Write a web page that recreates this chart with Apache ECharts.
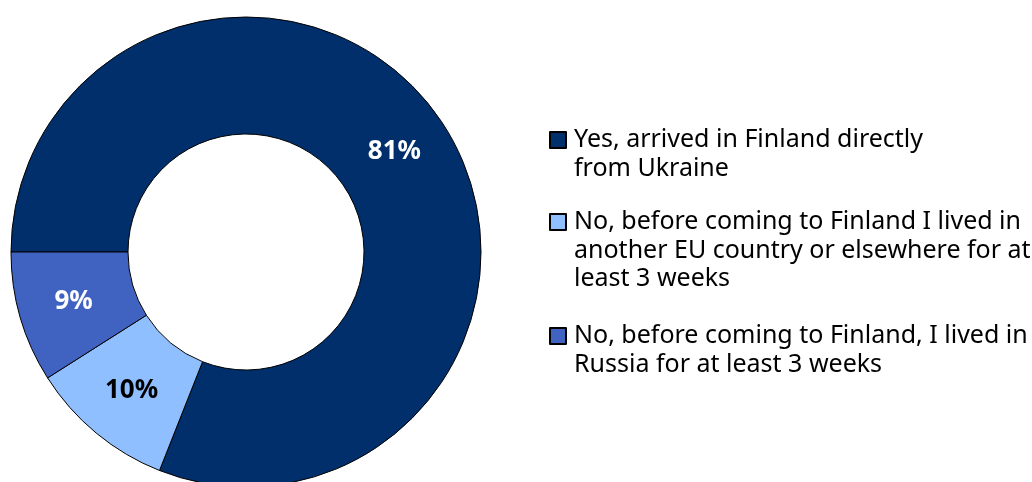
<!DOCTYPE html>
<html>
<head>
<meta charset="utf-8">
<script src="https://cdn.jsdelivr.net/npm/echarts@6/dist/echarts.min.js"></script>
<style>
  html, body { margin: 0; padding: 0; background: #fff; }
  #chart { width: 1032px; height: 482px; }
</style>
</head>
<body>
<div id="chart"></div>
<script>
// Survey answers: route of arrival to Finland
const categories = [
  'Yes, arrived in Finland directly from Ukraine',
  'No, before coming to Finland I lived in another EU country or elsewhere for at least 3 weeks',
  'No, before coming to Finland, I lived in Russia for at least 3 weeks'
];
const legendLines = [
  'Yes, arrived in Finland directly\nfrom Ukraine',
  'No, before coming to Finland I lived in\nanother EU country or elsewhere for at\nleast 3 weeks',
  'No, before coming to Finland, I lived in\nRussia for at least 3 weeks'
];
const shares = [81, 10, 9];
const colors = ['#002F6C', '#8FBFFF', '#4062C0'];
const labelColors = ['#FFFFFF', '#000000', '#FFFFFF'];

const FONT = 'Noto Sans';
const LINE_H = 28.5;
const ICON = 16;
// vertical centre of each legend marker
const legendCentres = [140, 222, 336];

const legends = categories.map((name, i) => {
  const n = legendLines[i].split('\n').length;
  // blank lines on top keep the marker level with the first text line
  const text = '\n'.repeat(n - 1) + legendLines[i];
  return {
    orient: 'vertical',
    left: 549,
    top: legendCentres[i] - (2 * n - 1) * LINE_H / 2,
    padding: 0,
    itemWidth: ICON,
    itemHeight: ICON,
    icon: 'rect',
    selectedMode: false,
    textStyle: {
      fontFamily: FONT,
      fontSize: 25,
      color: '#000',
      lineHeight: LINE_H,
      padding: [0, 0, 0, 3]
    },
    data: [name],
    formatter: () => text
  };
});

const chart = echarts.init(document.getElementById('chart'), null, { renderer: 'canvas' });
chart.setOption({
  animation: false,
  legend: legends,
  series: [{
    type: 'pie',
    center: [246, 252],
    radius: [118, 235],
    startAngle: 180,
    clockwise: true,
    avoidLabelOverlap: false,
    emphasis: { disabled: true },
    itemStyle: { borderColor: '#000', borderWidth: 1 },
    label: {
      show: true,
      position: 'inside',
      fontFamily: FONT,
      fontWeight: 'bold',
      fontSize: 26,
      formatter: p => p.value + '%'
    },
    labelLine: { show: false },
    data: categories.map((name, i) => ({
      name: name,
      value: shares[i],
      itemStyle: { color: colors[i] },
      label: { color: labelColors[i] }
    }))
  }]
});
</script>
</body>
</html>
